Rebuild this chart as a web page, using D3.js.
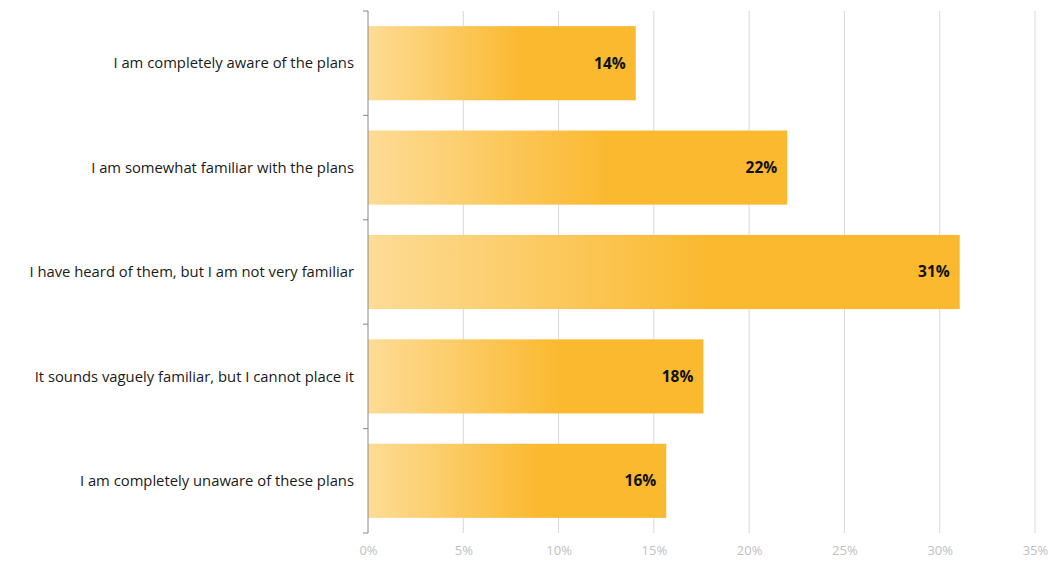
<!DOCTYPE html>
<html>
<head>
<meta charset="utf-8">
<script src="https://cdn.jsdelivr.net/npm/d3@7"></script>
<style>
  body { margin: 0; background: #fff; }
  svg text { font-family: "Open Sans", "Liberation Sans", sans-serif; }
</style>
</head>
<body>
<div id="chart"></div>
<script>
(function(){

// data
var categories = [
  'I am completely aware of the plans',
  'I am somewhat familiar with the plans',
  'I have heard of them, but I am not very familiar',
  'It sounds vaguely familiar, but I cannot place it',
  'I am completely unaware of these plans'
];
var values = [14.05, 22.0, 31.05, 17.6, 15.65];
var xTicks = [0, 5, 10, 15, 20, 25, 30, 35];

var width = 1052;
var height = 561;
var margin = {top: 11, right: 17, bottom: 28, left: 368};

var svg = d3.select('#chart').append('svg')
  .attr('width', width)
  .attr('height', height);

var x = d3.scaleLinear()
  .domain([0, 35])
  .range([margin.left, width - margin.right]);

var y = d3.scaleBand()
  .domain(categories)
  .range([margin.top, height - margin.bottom])
  .paddingInner(0.29)
  .paddingOuter(0.145);

// gradient, light on the left, full amber from ~57% of the bar
var defs = svg.append('defs');
var grad = defs.append('linearGradient')
  .attr('id', 'barGrad')
  .attr('x1', '0%').attr('x2', '100%')
  .attr('y1', '0%').attr('y2', '0%');
grad.append('stop').attr('offset', '0%').attr('stop-color', '#fddc96');
grad.append('stop').attr('offset', '57%').attr('stop-color', '#fbb930');
grad.append('stop').attr('offset', '100%').attr('stop-color', '#fbb930');

// vertical gridlines
svg.append('g')
  .selectAll('line')
  .data(xTicks.slice(1))
  .enter()
  .append('line')
  .attr('x1', function(d) { return x(d); })
  .attr('x2', function(d) { return x(d); })
  .attr('y1', margin.top)
  .attr('y2', height - margin.bottom)
  .attr('stroke', '#d9d9d9')
  .attr('stroke-width', 1);

// x axis labels (no line)
var xAxis = svg.append('g')
  .attr('transform', 'translate(0,' + (height - margin.bottom) + ')')
  .call(d3.axisBottom(x).tickValues(xTicks).tickSize(0).tickPadding(13)
    .tickFormat(function(d) { return d + '%'; }));
xAxis.select('.domain').remove();
xAxis.selectAll('text')
  .attr('fill', '#bfbfbf')
  .style('font-size', '13px');

// bars
svg.append('g')
  .selectAll('rect')
  .data(values)
  .enter()
  .append('rect')
  .attr('x', x(0))
  .attr('y', function(d, i) { return y(categories[i]); })
  .attr('width', function(d) { return x(d) - x(0); })
  .attr('height', y.bandwidth())
  .attr('fill', 'url(#barGrad)');

// value labels
svg.append('g')
  .selectAll('text')
  .data(values)
  .enter()
  .append('text')
  .attr('x', function(d) { return x(d) - 10; })
  .attr('y', function(d, i) { return y(categories[i]) + y.bandwidth() / 2; })
  .attr('dy', '0.35em')
  .attr('text-anchor', 'end')
  .attr('fill', '#111')
  .style('font-size', '15.5px')
  .style('font-weight', 'bold')
  .text(function(d) { return Math.round(d) + '%'; });

// y axis with ticks on band boundaries
var yAxisG = svg.append('g');
var bounds = categories.map(function(c) { return y(c) - y.step() * y.paddingInner() / 2; });
bounds.push(height - margin.bottom);
bounds[0] = margin.top;

yAxisG.append('line')
  .attr('x1', x(0)).attr('x2', x(0))
  .attr('y1', margin.top).attr('y2', height - margin.bottom)
  .attr('stroke', '#888').attr('stroke-width', 1);

yAxisG.selectAll('line.tick')
  .data(bounds)
  .enter()
  .append('line')
  .attr('class', 'tick')
  .attr('x1', x(0) - 5).attr('x2', x(0))
  .attr('y1', function(d) { return d; })
  .attr('y2', function(d) { return d; })
  .attr('stroke', '#888');

yAxisG.selectAll('text')
  .data(categories)
  .enter()
  .append('text')
  .attr('x', x(0) - 14)
  .attr('y', function(d) { return y(d) + y.bandwidth() / 2; })
  .attr('dy', '0.35em')
  .attr('text-anchor', 'end')
  .attr('fill', '#1a1a1a')
  .style('font-size', '14.8px')
  .text(function(d) { return d; });

})();
</script>
</body>
</html>
